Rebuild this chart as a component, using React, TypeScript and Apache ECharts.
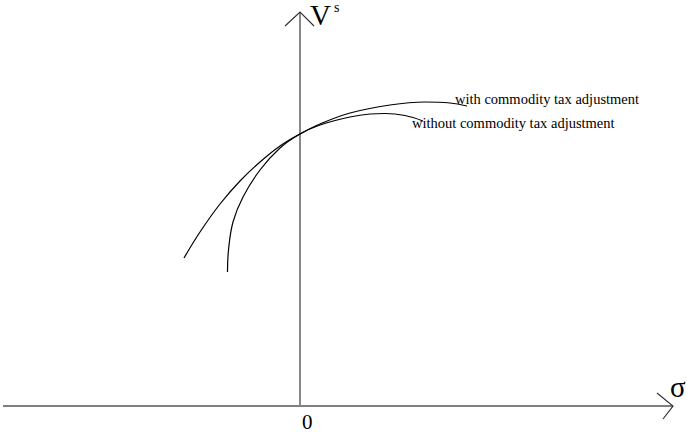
import React, { useEffect, useRef } from "react";
import * as echarts from "echarts";

// Indirect utility V^s against sigma, two schedules
const sigmaWith = [-1.16, -1.0, -0.8, -0.6, -0.4, -0.2, 0, 0.2, 0.5, 0.9, 1.25, 1.5, 1.67];
const vsWith = [1.48, 1.74, 2.02, 2.25, 2.44, 2.6, 2.72, 2.82, 2.93, 3.01, 3.04, 3.03, 3.0];
const sigmaWithout = [-0.725, -0.715, -0.67, -0.57, -0.4, -0.2, 0, 0.2, 0.5, 0.7, 0.85, 1.05, 1.23];
const vsWithout = [1.34, 1.56, 1.84, 2.09, 2.36, 2.58, 2.72, 2.81, 2.89, 2.92, 2.925, 2.905, 2.85];

// Extent of the drawn axis lines (in data units)
const sigmaAxisRange = [-2.97, 3.73];
const vsAxisRange = [0, 3.94];

const labelWith = "with commodity tax adjustment";
const labelWithout = "without commodity tax adjustment";

const SERIF = "'Liberation Serif', 'Times New Roman', serif";

function zip(xs: number[], ys: number[]) {
  return xs.map((x, i) => [x, ys[i]]);
}

export default function App() {
  const ref = useRef<HTMLDivElement>(null);

  useEffect(() => {
    if (!ref.current) return;
    const chart = echarts.init(ref.current, undefined, { renderer: "svg" });

    const curveStyle = { color: "#000", width: 1.2 };

    chart.setOption({
      animation: false,
      backgroundColor: "#fff",
      grid: { left: 0, right: 0, top: 0, bottom: 0 },
      xAxis: { type: "value", min: -3, max: 3.87, show: false },
      yAxis: { type: "value", min: -0.28, max: 4.06, show: false },
      series: [
        {
          type: "custom",
          clip: false,
          silent: true,
          z: 1,
          data: [[0, 0]],
          renderItem: (_params: any, api: any) => {
            const o = api.coord([0, 0]);
            const xs = api.coord([sigmaAxisRange[0], 0]);
            const xe = api.coord([sigmaAxisRange[1], 0]);
            const ye = api.coord([0, vsAxisRange[1]]);
            const arrowStyle = { stroke: "#333", fill: "none", lineWidth: 1.2 };
            return {
              type: "group",
              children: [
                {
                  type: "line",
                  shape: { x1: xs[0], y1: o[1], x2: xe[0], y2: o[1] },
                  style: { stroke: "#555", lineWidth: 1.5 },
                },
                {
                  type: "line",
                  shape: { x1: o[0], y1: o[1], x2: o[0], y2: ye[1] },
                  style: { stroke: "#888", lineWidth: 2 },
                },
                {
                  type: "polyline",
                  shape: {
                    points: [
                      [xe[0] - 16, o[1] - 13],
                      [xe[0], o[1]],
                      [xe[0] - 10, o[1] + 13],
                    ],
                  },
                  style: arrowStyle,
                },
                {
                  type: "polyline",
                  shape: {
                    points: [
                      [o[0] - 15, ye[1] + 14],
                      [o[0], ye[1]],
                      [o[0] + 14, ye[1] + 14],
                    ],
                  },
                  style: arrowStyle,
                },
              ],
            };
          },
        },
        {
          type: "line",
          name: labelWith,
          data: zip(sigmaWith, vsWith),
          smooth: 0.4,
          showSymbol: false,
          silent: true,
          z: 3,
          lineStyle: curveStyle,
        },
        {
          type: "line",
          name: labelWithout,
          data: zip(sigmaWithout, vsWithout),
          smooth: 0.4,
          showSymbol: false,
          silent: true,
          z: 3,
          lineStyle: curveStyle,
        },
      ],
      graphic: [
        {
          type: "text",
          left: 455,
          top: 91,
          style: { text: labelWith, font: `14.5px ${SERIF}`, fill: "#000" },
        },
        {
          type: "text",
          left: 412,
          top: 115,
          style: { text: labelWithout, font: `14.5px ${SERIF}`, fill: "#000" },
        },
        {
          type: "text",
          left: 310,
          top: 0,
          style: { text: "V", font: `29px ${SERIF}`, fill: "#000" },
        },
        {
          type: "text",
          left: 334,
          top: 0,
          style: { text: "s", font: `14px ${SERIF}`, fill: "#000" },
        },
        {
          type: "text",
          left: 670,
          top: 372,
          style: { text: "σ", font: `29px ${SERIF}`, fill: "#000" },
        },
        {
          type: "text",
          left: 302,
          top: 411,
          style: { text: "0", font: `21px ${SERIF}`, fill: "#000" },
        },
      ],
    });

    return () => chart.dispose();
  }, []);

  return (
    <div
      ref={ref}
      style={{ position: "absolute", left: 0, top: 0, width: 687, height: 434 }}
    />
  );
}
